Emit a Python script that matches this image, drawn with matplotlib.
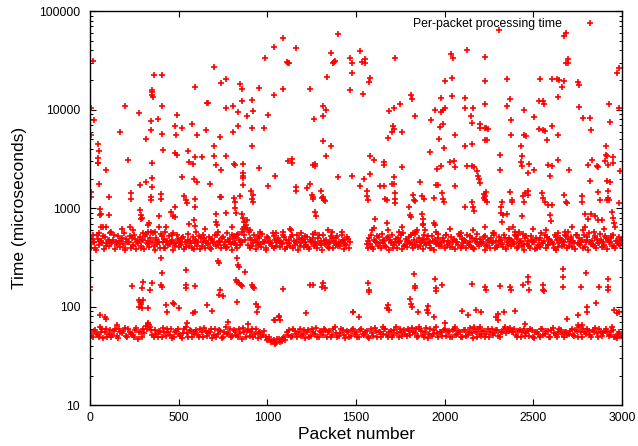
import numpy as np
import matplotlib
matplotlib.use("Agg")
import matplotlib.pyplot as plt
from matplotlib.ticker import LogLocator, FormatStrFormatter, NullFormatter

plt.rcParams["font.family"] = ["Liberation Sans", "DejaVu Sans"]

# packet numbers are sampled every 15 packets for the two dense bands
band_step = 15

# fast path band (~55 us), two interleaved rows of estimates
fast_row_a = [
    54, 49, 58, 52, 56, 48, 60, 53, 50, 57, 51, 59, 54, 61, 49, 56, 52, 58, 47, 55,
    60, 64, 67, 58, 50, 53, 57, 49, 55, 60, 52, 48, 56, 59, 51, 54, 62, 50, 57, 53,
    58, 49, 55, 61, 51, 56, 48, 59, 53, 57, 50, 62, 54, 49, 58, 52, 60, 47, 55, 57,
    51, 59, 53, 48, 56, 52, 49, 47, 44, 46, 43, 47, 45, 50, 55, 58, 51, 57, 49, 60,
    53, 48, 58, 51, 56, 61, 50, 55, 59, 49, 57, 52, 62, 50, 54, 58, 48, 56, 51, 59,
    55, 49, 60, 52, 57, 48, 54, 61, 50, 56, 53, 59, 49, 57, 52, 62, 50, 55, 58, 51,
    57, 61, 54, 49, 60, 52, 56, 48, 59, 53, 62, 50, 55, 58, 51, 57, 49, 60, 53, 56,
    50, 58, 52, 61, 48, 55, 59, 51, 57, 53, 49, 60, 54, 58, 50, 56, 62, 59, 61, 55,
    52, 57, 49, 60, 54, 51, 58, 48, 56, 50, 59, 53, 57, 49, 61, 52, 55, 58, 50, 56,
    53, 59, 51, 57, 62, 49, 55, 60, 52, 58, 61, 50, 56, 54, 59, 51, 57, 49, 48, 55,
]
fast_row_b = [
    51, 57, 53, 49, 59, 55, 50, 58, 52, 60, 48, 55, 57, 51, 59, 53, 49, 61, 56, 50,
    54, 59, 63, 52, 58, 49, 56, 61, 51, 55, 59, 50, 57, 53, 48, 60, 54, 58, 50, 56,
    52, 60, 49, 57, 54, 59, 52, 50, 58, 48, 56, 53, 60, 51, 57, 49, 54, 61, 50, 58,
    56, 50, 59, 54, 50, 57, 46, 49, 45, 42, 47, 44, 48, 46, 52, 50, 59, 53, 56, 51,
    58, 55, 50, 60, 53, 49, 57, 52, 58, 55, 50, 59, 54, 51, 60, 52, 57, 50, 58, 53,
    50, 58, 53, 56, 49, 60, 51, 57, 55, 50, 59, 52, 56, 50, 58, 54, 59, 51, 53, 60,
    52, 55, 59, 51, 57, 50, 61, 53, 51, 58, 54, 56, 51, 60, 55, 49, 58, 52, 57, 50,
    58, 51, 56, 54, 59, 50, 53, 57, 49, 60, 56, 52, 58, 51, 55, 60, 54, 57, 55, 60,
    49, 58, 55, 51, 57, 59, 50, 56, 53, 60, 52, 57, 50, 58, 54, 49, 59, 53, 56, 52,
    57, 52, 58, 50, 55, 59, 53, 57, 50, 56, 54, 60, 51, 57, 55, 52, 58, 50, 53, 51,
]

# slow path band (~450 us), three interleaved rows, None = no packets
slow_row_a = [
    430, 540, 400, 490, 455, 520, 410, 480, 440, 530, 420, 470, 505, 395, 450, 525, 415, 485, 440, 400,
    480, 550, 430, 580, 410, 495, 450, 525, 400, 470, 430, 535, 415, 490, 445, 515, 405, 480, 440, 390,
    470, 520, 415, 495, 440, 400, 485, 540, 425, 460, 510, 400, 475, 430, 520, 420, 480, 580, 540, 630,
    495, 415, 480, 525, 430, 460, 400, 495, 440, 520, 415, 470, 445, 510, 405, 480, 530, 425, 460, 415,
    480, 520, 405, 455, 500, 430, 535, 420, 470, 445, 400, 495, 440, 520, 415, 465, 430, 485, None, None,
    None, None, None, None, 430, 500, 405, 465, 525, 440, 480, 415, 510, 455, 400, 490, 440, 530, 415, 465,
    510, 430, 545, 455, 410, 490, 440, 525, 400, 470, 430, 505, 415, 465, 530, 440, 405, 485, 450, 520,
    415, 470, 440, 525, 400, 485, 430, 455, 510, 415, 470, 440, 530, 405, 465, 430, 500, 420, 480, 450,
    520, 405, 470, 435, 525, 415, 480, 455, 400, 500, 440, 530, 420, 470, 435, 510, 405, 480, 450, 525,
    415, 470, 440, 535, 430, 480, 405, 510, 455, 420, 525, 440, 480, 405, 500, 450, 520, 415, 470, 430,
]
slow_row_b = [
    400, 455, 380, 425, 470, 390, 440, 410, 460, 385, 445, 405, 430, 378, 455, 400, 425, 385, 465, 415,
    390, 440, 405, 455, 380, 430, 400, 460, 392, 420, 450, 380, 440, 405, 425, 388, 455, 412, 398, 445,
    410, 382, 450, 400, 430, 388, 445, 410, 460, 392, 425, 405, 450, 380, 440, 400, 420, 455, 475, 425,
    400, 445, 388, 425, 405, 460, 380, 440, 412, 392, 450, 405, 430, 386, 445, 410, 398, 455, 380, 440,
    405, 425, 388, 455, 412, 398, 445, 380, 430, 405, 460, 392, 425, 410, 450, 386, 420, 400, None, None,
    None, None, None, None, 400, 430, 386, 450, 412, 392, 440, 405, 380, 445, 420, 398, 455, 388, 425, 405,
    440, 392, 425, 405, 455, 386, 420, 445, 400, 380, 440, 412, 460, 392, 425, 405, 450, 386, 420, 398,
    445, 392, 425, 405, 386, 455, 412, 440, 380, 425, 400, 450, 392, 420, 440, 405, 386, 455, 412, 430,
    392, 445, 412, 380, 430, 400, 450, 386, 425, 405, 440, 392, 420, 455, 400, 380, 440, 412, 425, 392,
    450, 405, 386, 440, 420, 398, 455, 380, 430, 412, 392, 445, 405, 425, 386, 450, 412, 398, 440, 420,
]
slow_row_c = [
    490, 455, 530, 470, 445, 510, 465, 560, 480, 450, 520, 470, 555, 485, 450, 500, 540, 460, 515, 475,
    525, 465, 500, 560, 480, 450, 545, 490, 460, 520, 480, 445, 535, 465, 505, 455, 550, 470, 515, 480,
    460, 495, 540, 465, 515, 480, 450, 530, 470, 495, 455, 555, 485, 460, 505, 545, 465, 620, 680, 570,
    480, 530, 460, 495, 545, 470, 515, 450, 560, 475, 500, 460, 540, 480, 445, 515, 470, 530, 485, 505,
    460, 515, 475, 545, 450, 505, 470, 530, 480, 445, 520, 465, 500, 460, 540, 475, 515, 455, None, None,
    None, None, None, None, 470, 530, 480, 450, 515, 550, 465, 505, 475, 530, 455, 495, 470, 560, 485, 460,
    530, 475, 580, 500, 465, 540, 485, 455, 520, 475, 545, 460, 495, 530, 470, 515, 480, 450, 545, 490,
    475, 530, 460, 505, 470, 545, 485, 455, 520, 475, 495, 560, 465, 515, 475, 540, 460, 505, 470, 530,
    485, 460, 545, 495, 470, 520, 455, 505, 475, 560, 465, 515, 485, 460, 540, 475, 505, 465, 530, 485,
    515, 470, 540, 495, 460, 530, 475, 560, 465, 505, 485, 545, 455, 520, 475, 495, 540, 470, 515, 475,
]

# sparse packets: (packet number, microseconds)
spikes_0_750 = [
    (17, 31000), (359, 22300), (406, 22400), (350, 16000), (352, 15000), (348, 14000), (353, 13500),
    (699, 27000), (737, 18500), (592, 17000), (8, 10300), (23, 7800), (6, 5600), (198, 10900),
    (274, 9200), (342, 7760), (342, 6170), (383, 8100), (406, 11000), (406, 5700), (491, 8900),
    (478, 6800), (485, 5600), (519, 6500), (575, 7100), (603, 5500), (652, 6200), (660, 11600),
    (668, 11800), (733, 5300), (698, 4300), (167, 6000), (316, 5100), (48, 4500), (50, 3800),
    (48, 3250), (48, 2900), (46, 2850), (90, 2450), (214, 3100), (350, 2900), (412, 3900),
    (480, 3650), (492, 3500), (553, 3850), (558, 2950), (581, 2800), (592, 3300), (632, 3300),
    (698, 3400), (711, 2750), (739, 2450), (519, 2100), (587, 2000), (603, 1850), (675, 1780),
    (51, 1780), (280, 1740), (316, 1850), (350, 2050), (350, 1660), (6, 1450), (6, 1300),
    (105, 1310), (232, 1420), (232, 1240), (344, 1310), (346, 1200), (400, 1380), (402, 1250),
    (478, 1040), (530, 1330), (541, 1200), (547, 1130), (592, 1230), (592, 1040), (739, 1310),
    (711, 880), (711, 730), (714, 680), (56, 990), (56, 860), (62, 870), (105, 860), (224, 650),
    (282, 970), (285, 860), (290, 780), (292, 800), (331, 715), (389, 830), (389, 650), (457, 920),
    (468, 830), (480, 820), (587, 760), (592, 660), (598, 580), (62, 640), (90, 640), (327, 580),
    (367, 580), (423, 580),
]
spikes_750_1500 = [
    (1087, 52800), (1038, 43000), (1162, 42000), (987, 33500), (1117, 30000), (1113, 30500),
    (1121, 29500), (1397, 59000), (1359, 38000), (1376, 30800), (1372, 30000), (1380, 31200),
    (1466, 33500), (1478, 29500), (1478, 23400), (1466, 15800), (1335, 21400), (1241, 16100),
    (1089, 16400), (953, 16700), (1038, 14100), (846, 18100), (855, 16400), (767, 20300),
    (855, 12300), (914, 12600), (807, 10900), (765, 10300), (835, 9400), (884, 8600), (918, 9700),
    (1002, 8800), (835, 6800), (807, 6000), (914, 6500), (981, 6500), (914, 4300), (1263, 8100),
    (1314, 8600), (1331, 10000), (1314, 10800), (1314, 4800), (1359, 4300), (1331, 3400),
    (767, 3400), (812, 2800), (815, 2750), (861, 2800), (861, 2300), (861, 2150), (861, 2040),
    (861, 1740), (953, 2570), (1043, 2150), (1002, 1700), (1137, 3150), (1117, 2990), (1137, 2900),
    (1260, 2750), (1266, 2700), (1270, 2800), (1162, 1650), (1162, 1510), (1241, 1770), (1224, 1610),
    (1399, 2100), (1478, 2150), (733, 1290), (812, 1270), (818, 1160), (846, 1340), (818, 1000),
    (823, 900), (767, 900), (907, 1480), (920, 1370), (914, 1250), (918, 1170), (855, 880),
    (865, 800), (884, 760), (869, 650), (874, 620), (799, 535), (827, 535), (1250, 1370),
    (1255, 1300), (1260, 1250), (1316, 1310), (1320, 1220), (1325, 1180), (1303, 1480), (1310, 1270),
    (1269, 910), (1275, 830), (1363, 575), (1134, 600), (1090, 570),
]
spikes_1500_2250 = [
    (1525, 39800), (1534, 30800), (1549, 32500), (1549, 29500), (1581, 21100), (1572, 19200),
    (1538, 14600), (1718, 33700), (2036, 36500), (2047, 33200), (2123, 40400), (2004, 19600),
    (2042, 20800), (1981, 13200), (2042, 13700), (2117, 13200), (1812, 14000), (1816, 12700),
    (1750, 11300), (1716, 10300), (1685, 9700), (1831, 8600), (1925, 7950), (1944, 9900), (1981, 9400),
    (1989, 10000), (2004, 10300), (2117, 10300), (2160, 10300), (2150, 8700), (1976, 6700),
    (1989, 7100), (1709, 6800), (1716, 6400), (1703, 6000), (1681, 5200), (1760, 5900), (2060, 5500),
    (1970, 5000), (1995, 4100), (1919, 3700), (2113, 4300), (2154, 4500), (2154, 7400), (2201, 7100),
    (2201, 6600), (2226, 4900), (2233, 6500), (1581, 3400), (1600, 3100), (1656, 2930), (1656, 2760),
    (1760, 2600), (1581, 2250), (1544, 2000), (1525, 1670), (1716, 2100), (1703, 1770), (1716, 1770),
    (1637, 1670), (1660, 1670), (1863, 1850), (1957, 2500), (1981, 2700), (2029, 2930), (2051, 3000),
    (2060, 2650), (2126, 2700), (2154, 2700), (2164, 2650), (2183, 2370), (2188, 2140), (2192, 1990),
    (2198, 1820), (1951, 1740), (1963, 1740), (2060, 1670), (1562, 1490), (1562, 1340), (1568, 1210),
    (1666, 1240), (1675, 1210), (1718, 1430), (1718, 1240), (1722, 1130), (1822, 1370), (1826, 1220),
    (1831, 1180), (1872, 1320), (1882, 1250), (1938, 1270), (1985, 1440), (1989, 1240), (1995, 1150),
    (2117, 1040), (2154, 1150), (2158, 1040), (2164, 930), (2221, 1400), (2221, 1270), (2226, 1210),
    (1801, 1030), (1807, 860), (1812, 810), (1872, 880), (1878, 770), (1878, 680), (1938, 705),
    (1947, 680), (1609, 770), (1675, 705), (1741, 575), (1590, 600), (1844, 600), (1888, 600),
]
spikes_2250_3000 = [
    (2308, 64100), (2685, 59800), (2673, 56000), (2694, 32500), (2685, 30000), (2698, 30000),
    (2228, 34300), (2985, 26300), (2974, 23400), (2228, 19600), (2350, 20300), (2538, 20300),
    (2604, 20300), (2632, 20300), (2647, 19800), (2675, 19600), (2660, 17000), (2754, 19000),
    (2760, 18000), (2638, 13500), (2532, 12400), (2557, 12300), (2562, 11300), (2369, 12700),
    (2350, 10900), (2228, 11300), (2450, 9900), (2506, 8500), (2375, 7900), (2760, 10600),
    (2782, 8300), (2820, 8300), (2826, 6200), (2927, 11300), (2933, 7500), (2984, 10500),
    (2228, 6550), (2246, 6400), (2237, 4900), (2375, 5600), (2450, 5500), (2457, 5400), (2532, 6300),
    (2557, 6200), (2566, 6050), (2604, 6900), (2638, 5600), (2576, 4900), (2431, 4300), (2434, 3400),
    (2429, 2930), (2434, 2700), (2312, 3450), (2312, 2450), (2478, 2830), (2472, 2290), (2506, 2420),
    (2585, 2760), (2604, 2660), (2594, 2150), (2641, 3070), (2701, 2450), (2807, 2760), (2829, 3070),
    (2857, 2700), (2863, 2650), (2820, 1880), (2908, 4300), (2910, 3500), (2914, 3400), (2905, 3000),
    (2923, 2760), (2914, 1910), (2933, 1830), (2948, 3300), (2948, 2900), (2984, 1130), (2990, 2400),
    (2228, 1320), (2237, 1170), (2232, 1450), (2322, 1170), (2318, 1040), (2369, 1450), (2378, 1220),
    (2380, 1150), (2444, 1320), (2453, 1430), (2469, 1490), (2472, 1370), (2450, 1170), (2547, 1430),
    (2557, 1270), (2566, 1170), (2585, 1090), (2604, 1090), (2594, 860), (2600, 740), (2673, 1370),
    (2683, 1170), (2689, 1130), (2773, 1320), (2773, 1170), (2867, 1450), (2876, 1220), (2923, 1490),
    (2920, 1270), (2914, 1220), (2927, 1210), (2318, 890), (2322, 720), (2331, 860), (2350, 880),
    (2387, 650), (2434, 830), (2792, 880), (2807, 780), (2826, 880), (2848, 830), (2867, 760),
    (2889, 760), (2942, 910), (2948, 800), (2952, 705), (2696, 575), (2679, 575), (2397, 570),
    (2414, 530), (2792, 650),
]
# packets between the two bands
mid_packets = [
    (0, 160), (0, 148), (235, 162), (301, 180), (292, 155), (338, 148), (348, 176), (278, 117),
    (288, 108), (278, 99), (292, 97), (282, 112), (301, 117), (329, 97), (400, 311), (404, 222),
    (400, 166), (404, 160), (429, 104), (436, 89), (470, 110), (475, 106), (504, 97), (540, 235),
    (541, 166), (541, 155), (592, 162), (592, 89), (583, 86), (658, 104), (686, 91), (724, 290),
    (729, 277), (733, 148), (729, 131), (748, 128), (827, 311), (836, 265), (842, 255), (874, 228),
    (823, 187), (831, 180), (842, 173), (850, 166), (855, 163), (912, 166), (921, 160), (927, 155),
    (827, 112), (936, 106), (949, 100), (940, 89), (1068, 79), (1072, 73), (1040, 73), (1087, 150),
    (1241, 166), (1260, 166), (1316, 173), (1325, 155), (1306, 160), (1218, 87), (56, 82), (85, 79),
    (90, 75), (1482, 89), (1570, 173), (1576, 148), (1576, 143), (1829, 215), (1833, 162), (1833, 155),
    (1946, 190), (1951, 157), (1951, 144), (1984, 166), (2153, 169), (2228, 160), (2233, 148),
    (2312, 163), (2369, 160), (2373, 148), (2469, 202), (2472, 180), (2444, 166), (2478, 148),
    (2553, 166), (2553, 148), (2560, 146), (2666, 240), (2669, 202), (2669, 160), (2767, 160),
    (2797, 222), (2872, 160), (2918, 190), (2923, 160), (2918, 148), (1805, 119), (1811, 106),
    (1815, 99), (1682, 104), (1673, 97), (1688, 93), (1908, 101), (1899, 93), (1904, 87), (1852, 89),
    (1942, 79), (1485, 89), (1519, 79), (2096, 91), (2134, 82), (2177, 93), (2205, 89), (2290, 79),
    (2299, 85), (2303, 73), (2337, 89), (2397, 91), (2692, 76), (2754, 82), (2801, 99), (2805, 89),
    (2854, 110), (2957, 93), (2970, 87), (2985, 89),
    (329, 69), (335, 65), (549, 68), (780, 70), (889, 67), (56, 63), (150, 65), (1043, 73),
    (1068, 80), (1654, 63), (2002, 69), (2059, 63), (2166, 63), (2200, 63), (2453, 67), (2751, 65),
    (2773, 65), (2942, 63), (1857, 63), (2970, 49),
]
# packets just above the slow band
above_slow = [
    (50, 560), (75, 640), (120, 580), (180, 620), (240, 600), (300, 560), (330, 680), (430, 650),
    (470, 560), (560, 700), (650, 620), (720, 580), (800, 650), (870, 720), (905, 600), (960, 580),
    (1050, 560), (1130, 620), (1190, 560), (1270, 560), (1340, 600), (1420, 580), (1600, 630),
    (1680, 600), (1760, 640), (1820, 560), (1880, 700), (1950, 580), (2030, 620), (2090, 560),
    (2160, 600), (2230, 640), (2280, 560), (2360, 610), (2420, 580), (2500, 620), (2570, 600),
    (2640, 560), (2720, 640), (2780, 600), (2840, 580), (2900, 620), (2960, 640),
]

x_ticks = [0, 500, 1000, 1500, 2000, 2500, 3000]

fig = plt.figure(figsize=(6.38, 4.46), dpi=100)
ax = fig.add_axes([0.141, 0.091, 0.834, 0.884])

style = dict(ls="none", marker="+", color="red", ms=5.0, mew=1.2)

n = len(fast_row_a)
for off, row in [(0, fast_row_a), (7, fast_row_b)]:
    xs = np.arange(n) * band_step + off
    ax.plot(xs, np.array(row, dtype=float), **style)
for off, row in [(0, slow_row_a), (5, slow_row_b), (10, slow_row_c)]:
    xs = np.arange(len(row)) * band_step + off
    ys = np.array([np.nan if v is None else v for v in row], dtype=float)
    ax.plot(xs, ys, **style)

sparse = spikes_0_750 + spikes_750_1500 + spikes_1500_2250 + spikes_2250_3000 + mid_packets + above_slow
sx, sy = zip(*sparse)
ax.plot(sx, sy, label="Per-packet processing time", **style)

ax.set_yscale("log")
ax.set_xlim(0, 3000)
ax.set_ylim(10, 100000)
ax.set_xticks(x_ticks)
ax.yaxis.set_major_locator(LogLocator(base=10, numticks=10))
ax.yaxis.set_minor_locator(LogLocator(base=10, subs=np.arange(2, 10), numticks=20))
ax.yaxis.set_major_formatter(FormatStrFormatter("%d"))
ax.yaxis.set_minor_formatter(NullFormatter())

ax.tick_params(which="both", direction="in", top=True, right=True, labelsize=8.8, color="black")
ax.tick_params(which="major", length=4.5, width=0.8)
ax.tick_params(which="minor", length=2.3, width=0.7)
ax.tick_params(axis="y", pad=7)
ax.tick_params(axis="x", pad=5)
for s in ax.spines.values():
    s.set_linewidth(1.0)

ax.set_xlabel("Packet number", fontsize=12.5, labelpad=2)
ax.set_ylabel("Time (microseconds)", fontsize=12.5, labelpad=9)

ax.legend(loc="upper right", frameon=False, markerfirst=False, numpoints=1,
          fontsize=8.8, handlelength=1.2, handletextpad=1.7,
          bbox_to_anchor=(0.968, 1.0), borderaxespad=0.2)

fig.savefig("out.png", dpi=100)
